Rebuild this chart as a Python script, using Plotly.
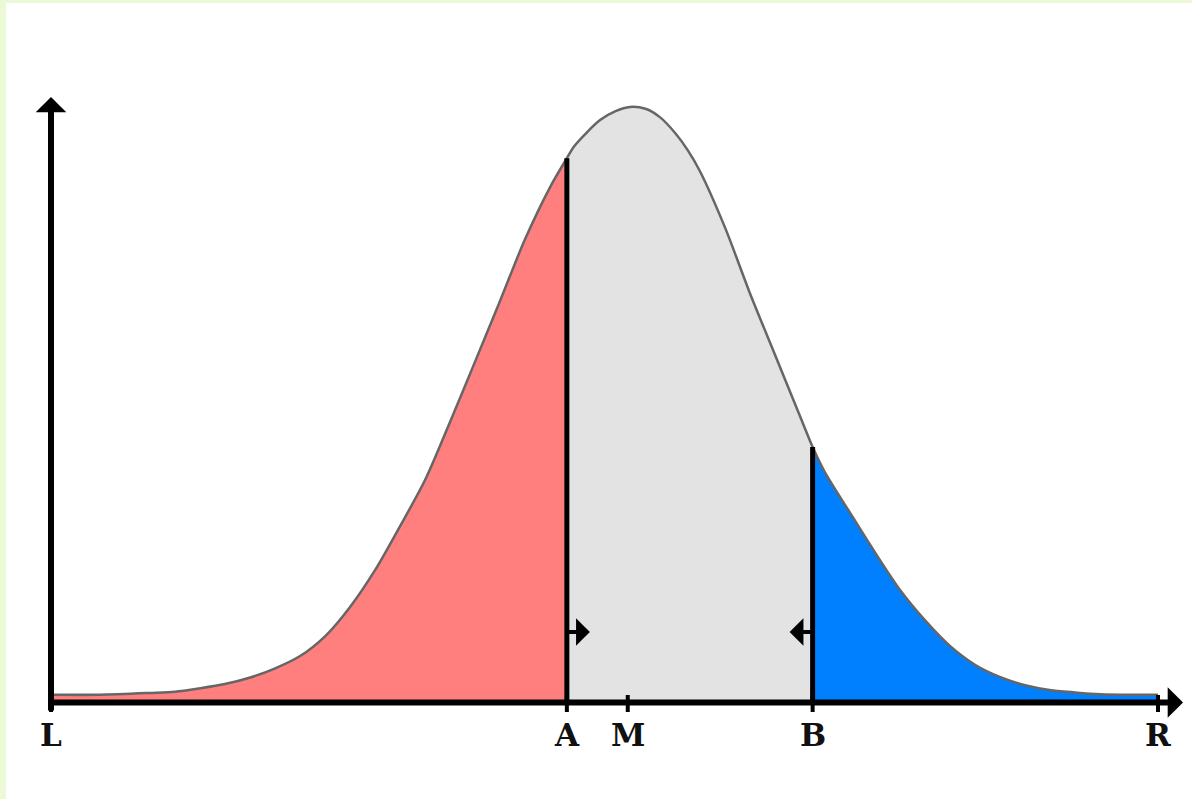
import plotly.graph_objects as go

# ---------------- data ----------------
CURVE_X = [0.0, 4.4, 8.9, 11.2, 13.5, 15.7, 18.0, 20.2, 22.5, 24.8, 27.0, 29.3,
           31.5, 33.8, 36.0, 38.3, 40.6, 42.8, 45.1, 46.6, 47.3, 49.6, 51.0, 52.3,
           53.7, 55.0, 56.4, 57.5, 58.6, 60.9, 63.1, 65.4, 67.7, 68.8, 69.9, 72.2,
           74.4, 76.7, 79.0, 81.2, 83.5, 85.7, 88.0, 90.2, 92.5, 94.8, 97.5, 100.0]
CURVE_Y = [1.3, 1.3, 1.6, 1.8, 2.4, 3.1, 4.2, 5.7, 7.8, 11.2, 16.0, 22.3,
           29.5, 37.4, 46.9, 57.2, 67.6, 77.7, 86.6, 91.4, 93.5, 97.8, 99.3, 100.0,
           99.7, 98.3, 95.6, 92.8, 89.3, 79.7, 68.9, 58.4, 47.9, 42.9, 38.7, 31.8,
           25.3, 18.9, 13.7, 9.5, 6.3, 4.3, 2.9, 2.1, 1.7, 1.4, 1.3, 1.3]
TICK_VALUES = [0, 46.6, 52.1, 68.8, 100]
TICK_LABELS = ["L", "A", "M", "B", "R"]
A_VALUE = 46.6
B_VALUE = 68.8

# ---------------- layout constants (pixels) ----------------
W, H = 1192, 799
ML, MT = 6, 3                    # light green frame strips
PX_X0, PX_X100 = 51, 1158        # pixel of x=0 and x=100
PX_Y0, PX_PER_Y = 702.5, 5.955   # pixel of y=0, pixels per y unit
PX_PER_X = (PX_X100 - PX_X0) / 100.0


def xd(px):
    return (px - PX_X0) / PX_PER_X


def yd(py):
    return (PX_Y0 - py) / PX_PER_Y


def dx(npx):
    return npx / PX_PER_X


x_range = [xd(ML), xd(W)]
y_range = [yd(H), yd(MT)]


def curve_at(xv):
    for i in range(len(CURVE_X) - 1):
        if CURVE_X[i] <= xv <= CURVE_X[i + 1]:
            t = (xv - CURVE_X[i]) / (CURVE_X[i + 1] - CURVE_X[i])
            return CURVE_Y[i] + t * (CURVE_Y[i + 1] - CURVE_Y[i])
    return 0


def segment(lo, hi):
    xs = [x for x in CURVE_X if lo <= x <= hi]
    ys = [y for x, y in zip(CURVE_X, CURVE_Y) if lo <= x <= hi]
    return xs, ys


SMOOTH = 0.8
fig = go.Figure()

segs = [
    (CURVE_X[0], A_VALUE, "#FF7F7F"),
    (A_VALUE, B_VALUE, "#E3E3E3"),
    (B_VALUE, CURVE_X[-1], "#0080FF"),
]
for lo, hi, col in segs:
    xs, ys = segment(lo, hi)
    fig.add_trace(go.Scatter(x=xs, y=ys, mode="lines", fill="tozeroy",
                             fillcolor=col,
                             line=dict(width=0, color=col, shape="spline", smoothing=SMOOTH),
                             hoverinfo="skip", showlegend=False))

# curve outline
fig.add_trace(go.Scatter(x=CURVE_X, y=CURVE_Y, mode="lines",
                         line=dict(color="#666666", width=2.5, shape="spline", smoothing=SMOOTH),
                         hoverinfo="skip", showlegend=False))

# vertical boundary lines at A and B
for v in (A_VALUE, B_VALUE):
    fig.add_trace(go.Scatter(x=[v, v], y=[0, curve_at(v)], mode="lines",
                             line=dict(color="#000000", width=5),
                             hoverinfo="skip", showlegend=False))

shapes = []
# tick marks
for tv in TICK_VALUES:
    shapes.append(dict(type="line", xref="x", yref="y", x0=tv, x1=tv,
                       y0=yd(712), y1=yd(695), line=dict(color="#000000", width=4)))

annotations = []
# axis arrows
annotations.append(dict(x=0, y=yd(97), ax=0, ay=yd(712), xref="x", yref="y",
                        axref="x", ayref="y", text="", showarrow=True,
                        arrowhead=1, arrowwidth=6, arrowsize=0.85, arrowcolor="#000000"))
annotations.append(dict(x=xd(1183), y=0, ax=xd(47), ay=0, xref="x", yref="y",
                        axref="x", ayref="y", text="", showarrow=True,
                        arrowhead=1, arrowwidth=6, arrowsize=0.85, arrowcolor="#000000"))
# small direction arrows on A and B
y_arrow = yd(632)
annotations.append(dict(x=A_VALUE + dx(23), y=y_arrow, ax=A_VALUE, ay=y_arrow,
                        xref="x", yref="y", axref="x", ayref="y", text="",
                        showarrow=True, arrowhead=1, arrowwidth=4, arrowsize=1.15,
                        arrowcolor="#000000"))
annotations.append(dict(x=B_VALUE - dx(23), y=y_arrow, ax=B_VALUE, ay=y_arrow,
                        xref="x", yref="y", axref="x", ayref="y", text="",
                        showarrow=True, arrowhead=1, arrowwidth=4, arrowsize=1.15,
                        arrowcolor="#000000"))
# tick labels
for tv, lab in zip(TICK_VALUES, TICK_LABELS):
    annotations.append(dict(x=tv, y=yd(735), xref="x", yref="y", text="<b>%s</b>" % lab,
                            showarrow=False, xanchor="center", yanchor="middle",
                            font=dict(family="DejaVu Serif", size=31, color="#111111")))

fig.update_layout(
    width=W, height=H,
    margin=dict(l=ML, r=0, t=MT, b=0, pad=0),
    paper_bgcolor="#EBF9D6",
    plot_bgcolor="#FFFFFF",
    showlegend=False,
    xaxis=dict(visible=False, range=x_range, fixedrange=True),
    yaxis=dict(visible=False, range=y_range, fixedrange=True),
    shapes=shapes,
    annotations=annotations,
)

fig.write_html("out.html", config={"displayModeBar": False},
               post_script="document.body.style.margin='0';document.body.style.overflow='hidden';")
